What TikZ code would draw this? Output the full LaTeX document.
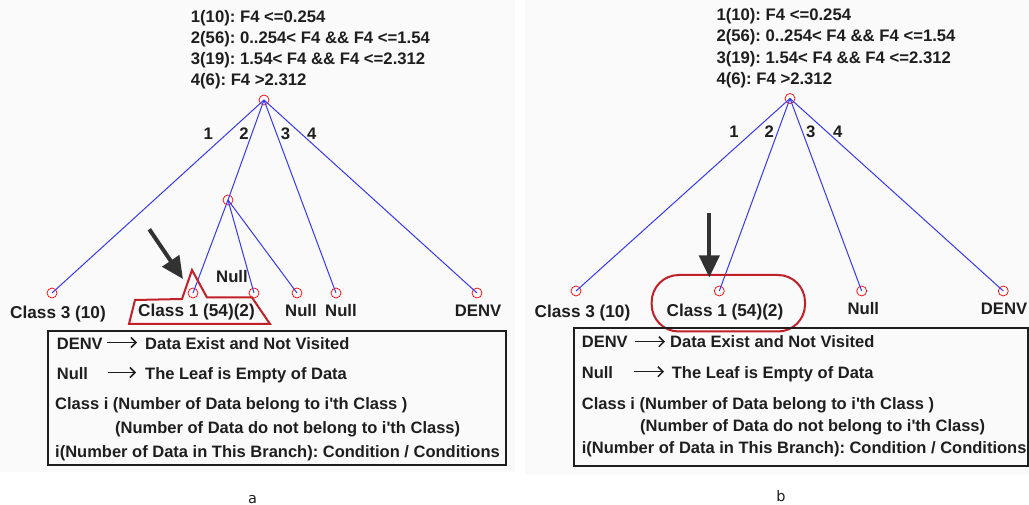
\documentclass[tikz,border=0pt]{standalone}
\usepackage{fontspec}
\newfontfamily\arialb{Liberation Sans}
\newfontfamily\captfont{DejaVu Sans}
\usetikzlibrary{arrows.meta}
\definecolor{edgeblue}{RGB}{55,55,250}
\definecolor{hlred}{RGB}{192,32,40}
\definecolor{arrowgray}{RGB}{50,50,50}
\definecolor{panelbg}{RGB}{250,250,250}
\definecolor{ink}{RGB}{30,30,30}
\frenchspacing
\begin{document}
\frenchspacing
\begin{tikzpicture}[x=1pt,y=-1pt,
  txt/.style={font=\arialb\bfseries\frenchspacing\fontsize{16.7}{20}\selectfont, inner sep=0pt, text=ink},
  cls/.style={txt, font=\arialb\bfseries\frenchspacing\fontsize{17.2}{20}\selectfont},
  legtxt/.style={txt, font=\arialb\bfseries\frenchspacing\fontsize{16.5}{20}\selectfont},
  leaf/.style={circle, draw=red, line width=0.7pt, minimum size=10pt, inner sep=0pt},
  edge/.style={draw=edgeblue, line width=1pt},
  pointer/.style={draw=arrowgray, line width=4pt, -{Triangle[length=22pt,width=20pt]}},
  legendbox/.style={draw=ink, line width=2pt},
  legarrow/.style={draw=ink, line width=1.5pt, -{Straight Barb[length=5pt,width=10pt]}},
  hl/.style={draw=hlred, line width=2pt, line join=miter},
  panellabel/.style={font=\captfont\fontsize{14.5}{18}\selectfont, inner sep=0pt, text=ink}
]
\useasboundingbox (0,0) rectangle (1029,505);
\fill[white] (0,0) rectangle (1029,505);
\fill[panelbg] (0,0) rectangle (515,472);
\fill[panelbg] (525,0) rectangle (1029,475);

% ---------------- Panel a ----------------
\node[txt, anchor=base west] (ta1) at (190.7,23) {1(10): F4 <=0.254};
\node[txt, anchor=base west] (ta2) at (190.7,44) {2(56): 0..254< F4 \&\& F4 <=1.54};
\node[txt, anchor=base west] (ta3) at (190.7,65) {3(19): 1.54< F4 \&\& F4 <=2.312};
\node[txt, anchor=base west] (ta4) at (190.7,86) {4(6): F4 >2.312};

\node[leaf] (ra) at (264,100) {};
\node[leaf] (ma) at (228,200) {};
\node[leaf] (a1) at (52,293) {};
\node[leaf] (a2) at (193,293) {};
\node[leaf] (a3) at (254,293) {};
\node[leaf] (a4) at (297,293) {};
\node[leaf] (a5) at (336,293) {};
\node[leaf] (a6) at (477,293) {};

\draw[edge] (ra.center) -- (a1.center);
\draw[edge] (ra.center) -- (ma.center);
\draw[edge] (ra.center) -- (a5.center);
\draw[edge] (ra.center) -- (a6.center);
\draw[edge] (ma.center) -- (a2.center);
\draw[edge] (ma.center) -- (a3.center);
\draw[edge] (ma.center) -- (a4.center);

\node[txt, anchor=base] (ea1) at (208.3,140) {1};
\node[txt, anchor=base] (ea2) at (244,140) {2};
\node[txt, anchor=base] (ea3) at (285.5,140) {3};
\node[txt, anchor=base] (ea4) at (311.7,140) {4};

\node[cls, anchor=base] (la1) at (58,319) {Class 3 (10)};
\node[cls, anchor=base] (la2) at (196.5,317) {Class 1 (54)(2)};
\node[txt, anchor=base] (la3) at (232,282.5) {Null};
\node[txt, anchor=base] (la4) at (301,317) {Null};
\node[txt, anchor=base] (la5) at (341,317) {Null};
\node[txt, anchor=base] (la6) at (478,317) {DENV};

\draw[hl] (129,324) -- (135,300) -- (182,299) -- (192,270) -- (207,297.5)
          -- (252,297.5) -- (270,324) -- cycle;

\coordinate (pa0) at (149.3,229.3);
\coordinate (pa1) at (183,279);
\draw[pointer] (pa0) -- (pa1);

\node[legendbox, minimum width=458pt, minimum height=134pt, anchor=north west, inner sep=0pt] (boxa) at (46.7,330) {};
\node[legtxt, anchor=base west] (da1) at (56.7,349) {DENV};
\node[legtxt, anchor=base west] (da2) at (145,349) {Data Exist and Not Visited};
\node[legtxt, anchor=base west] (da3) at (56.7,379) {Null};
\node[legtxt, anchor=base west] (da4) at (145,379) {The Leaf is Empty of Data};
\node[legtxt, anchor=base west] (da5) at (55,409) {Class i (Number of Data belong to i'th Class )};
\node[legtxt, anchor=base west] (da6) at (115,433) {(Number of Data do not belong to i'th Class)};
\node[legtxt, anchor=base west] (da7) at (55,457) {i(Number of Data in This Branch): Condition / Conditions};
\coordinate (aa1s) at (106.7,342.5);
\coordinate (aa1e) at (137,342.5);
\coordinate (aa2s) at (108,372.5);
\coordinate (aa2e) at (136,372.5);
\draw[legarrow] (aa1s) -- (aa1e);
\draw[legarrow] (aa2s) -- (aa2e);

\node[panellabel, anchor=base] (capa) at (252.5,503) {a};

% ---------------- Panel b ----------------
\node[txt, anchor=base west] (tb1) at (716.3,21) {1(10): F4 <=0.254};
\node[txt, anchor=base west] (tb2) at (716.3,42) {2(56): 0..254< F4 \&\& F4 <=1.54};
\node[txt, anchor=base west] (tb3) at (716.3,63.5) {3(19): 1.54< F4 \&\& F4 <=2.312};
\node[txt, anchor=base west] (tb4) at (716.3,84.5) {4(6): F4 >2.312};

\node[leaf] (rb) at (790,98.5) {};
\node[leaf] (b1) at (576,291) {};
\node[leaf] (b2) at (719.3,291) {};
\node[leaf] (b3) at (861.7,291) {};
\node[leaf] (b4) at (1003.3,291) {};

\draw[edge] (rb.center) -- (b1.center);
\draw[edge] (rb.center) -- (b2.center);
\draw[edge] (rb.center) -- (b3.center);
\draw[edge] (rb.center) -- (b4.center);

\node[txt, anchor=base] (eb1) at (734,138) {1};
\node[txt, anchor=base] (eb2) at (769.3,138) {2};
\node[txt, anchor=base] (eb3) at (810.8,138) {3};
\node[txt, anchor=base] (eb4) at (837.8,138) {4};

\node[cls, anchor=base] (lb1) at (582.5,318) {Class 3 (10)};
\node[cls, anchor=base] (lb2) at (725,317) {Class 1 (54)(2)};
\node[txt, anchor=base] (lb3) at (863.3,315) {Null};
\node[txt, anchor=base] (lb4) at (1004,315) {DENV};

\draw[hl, rounded corners=27pt] (651.7,275) rectangle (805,331.5);

\coordinate (pb0) at (709.3,213.3);
\coordinate (pb1) at (709.3,277.5);
\draw[pointer] (pb0) -- (pb1);

\node[legendbox, minimum width=453.7pt, minimum height=138.3pt, anchor=north west, inner sep=0pt] (boxb) at (573.3,326.7) {};
\node[legtxt, anchor=base west] (db1) at (581.7,348) {DENV};
\node[legtxt, anchor=base west] (db2) at (670,348) {Data Exist and Not Visited};
\node[legtxt, anchor=base west] (db3) at (581.7,378) {Null};
\node[legtxt, anchor=base west] (db4) at (671.7,378) {The Leaf is Empty of Data};
\node[legtxt, anchor=base west] (db5) at (581.7,409) {Class i (Number of Data belong to i'th Class )};
\node[legtxt, anchor=base west] (db6) at (640,431) {(Number of Data do not belong to i'th Class)};
\node[legtxt, anchor=base west] (db7) at (581.7,453) {i(Number of Data in This Branch): Condition / Conditions};
\coordinate (ab1s) at (635,341.7);
\coordinate (ab1e) at (665,341.7);
\coordinate (ab2s) at (634,371.7);
\coordinate (ab2e) at (664,371.7);
\draw[legarrow] (ab1s) -- (ab1e);
\draw[legarrow] (ab2s) -- (ab2e);

\node[panellabel, anchor=base] (capb) at (781,501.7) {b};
\end{tikzpicture}
\end{document}
